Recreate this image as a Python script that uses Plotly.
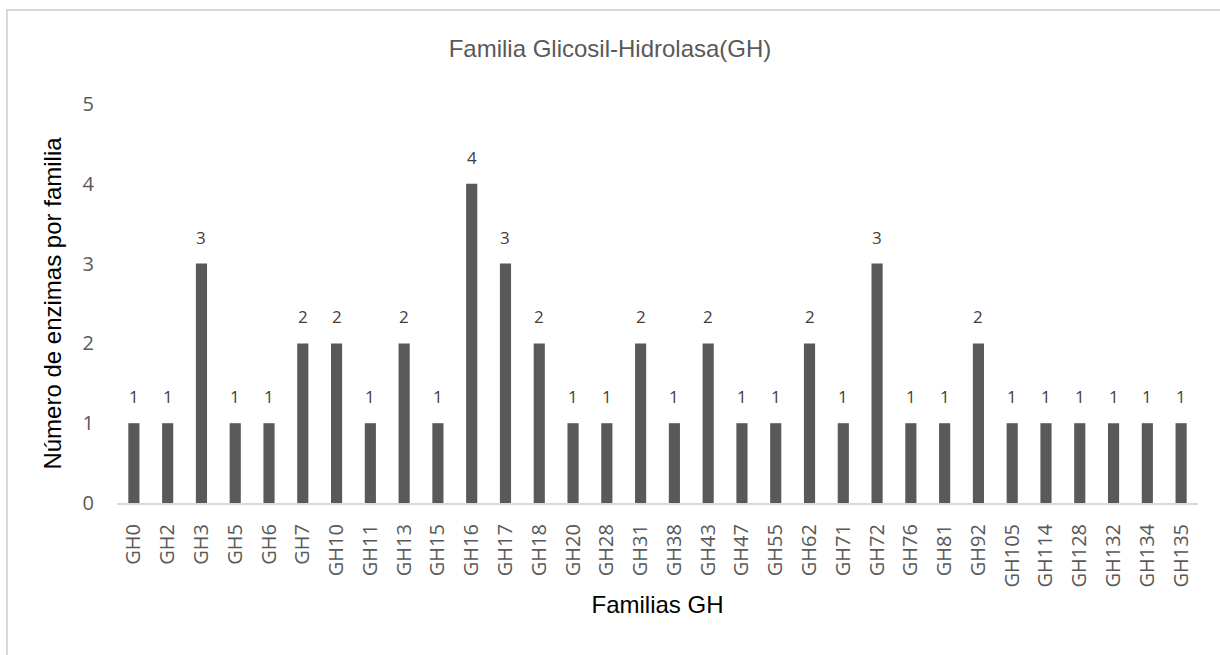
import plotly.graph_objects as go

categories = ["GH0", "GH2", "GH3", "GH5", "GH6", "GH7", "GH10", "GH11", "GH13", "GH15",
              "GH16", "GH17", "GH18", "GH20", "GH28", "GH31", "GH38", "GH43", "GH47", "GH55",
              "GH62", "GH71", "GH72", "GH76", "GH81", "GH92", "GH105", "GH114", "GH128",
              "GH132", "GH134", "GH135"]
values = [1, 1, 3, 1, 1, 2, 2, 1, 2, 1, 4, 3, 2, 1, 1, 2, 1, 2, 1, 1, 2, 1, 3, 1, 1, 2,
          1, 1, 1, 1, 1, 1]
y_ticks = [0, 1, 2, 3, 4, 5]

fig = go.Figure(go.Bar(
    x=categories, y=values,
    marker=dict(color="#595959", line=dict(width=0)),
    cliponaxis=False,
    hoverinfo="skip",
))

annotations = [
    dict(x=c, y=v, xref="x", yref="y", text=str(v), showarrow=False,
         yanchor="bottom", yshift=13,
         font=dict(family="Open Sans", size=17, color="#404040"))
    for c, v in zip(categories, values)
]

fig.update_layout(
    width=1220, height=655,
    margin=dict(l=117, r=22, t=104, b=152),
    paper_bgcolor="white", plot_bgcolor="white",
    bargap=0.67,
    showlegend=False,
    title=dict(text="Familia Glicosil-Hidrolasa(GH)", x=0.5, xanchor="center",
               y=1 - 49 / 655, yanchor="middle",
               font=dict(family="Liberation Sans", size=24, color="#595959")),
    xaxis=dict(
        type="category", tickangle=-90,
        tickfont=dict(family="Open Sans", size=20, color="#595959"),
        showline=True, linecolor="#d9d9d9", linewidth=2,
        ticks="outside", ticklen=11, tickcolor="rgba(0,0,0,0)",
        showgrid=False,
        title=dict(text="Familias GH", standoff=10,
                   font=dict(family="Liberation Sans", size=24, color="#000000")),
    ),
    yaxis=dict(
        range=[0, 5], tickvals=y_ticks,
        tickfont=dict(family="Open Sans", size=20, color="#595959"),
        showline=False, showgrid=False, zeroline=False,
        ticks="outside", ticklen=18, tickcolor="rgba(0,0,0,0)",
        title=dict(text="Número de enzimas por familia", standoff=14,
                   font=dict(family="Liberation Sans", size=24, color="#000000")),
    ),
    annotations=annotations,
    shapes=[dict(type="rect", xref="paper", yref="paper",
                 x0=-0.1018, x1=1.03, y0=-0.45, y1=1.2356,
                 line=dict(color="#d9d9d9", width=2), fillcolor="rgba(0,0,0,0)",
                 layer="below")],
)

fig.write_html("out.html", config={"displayModeBar": False},
               post_script="document.body.style.margin='0';")
